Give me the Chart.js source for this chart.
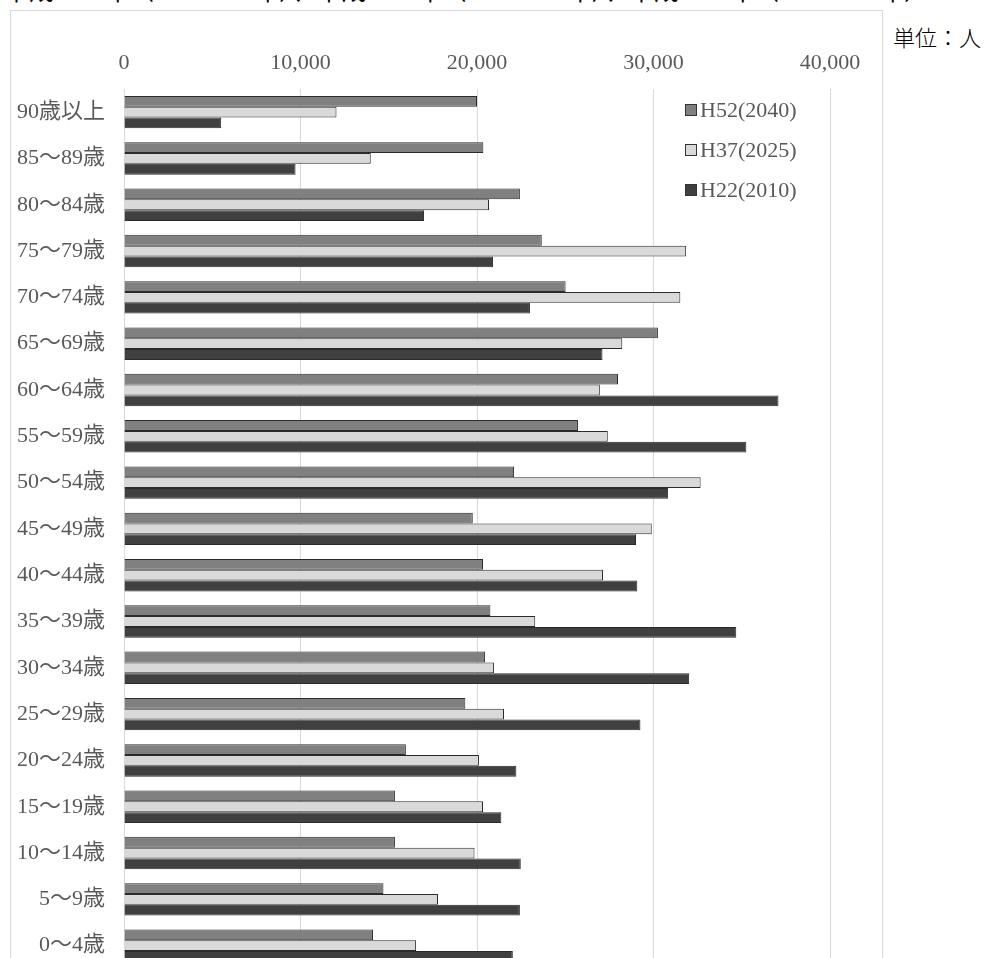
<!DOCTYPE html>
<html lang="ja">
<head>
<meta charset="utf-8">
<title>年齢階級別人口</title>
<script src="https://cdn.jsdelivr.net/npm/chart.js@4.4.1/dist/chart.umd.min.js"></script>
<style>
  html, body { margin: 0; padding: 0; background: #fff; overflow: hidden; }
  #wrap { position: relative; width: 1002px; height: 958px; overflow: hidden; }
  #frame { position: absolute; left: 10px; top: 10px; width: 873px; height: 1000px;
           border: 1px solid #d9d9d9; box-sizing: border-box; }
  #title { position: absolute; left: 4px; top: -25px; white-space: nowrap;
           font: 25px/28px "Noto Sans CJK JP", sans-serif; color: #000; }
  #unit { position: absolute; left: 893px; top: 22px;
          font: 300 22px/28px "Noto Sans CJK JP", sans-serif; color: #000; }
  #chart { position: absolute; left: 0; top: 0; }
  #legend { position: absolute; left: 685px; top: 90px; }
  .item { display: flex; align-items: center; height: 40px;
          font: 22px/1 "Liberation Serif", "Noto Sans CJK JP", serif; color: #595959; }
  .box { width: 10px; height: 10px; border: 1px solid #333; margin-right: 3px; }
</style>
</head>
<body>
<div id="wrap">
  <div id="title">平成２２年（２０１０年）、平成３７年（２０２５年）、平成５２年（２０４０年）</div>
  <div id="frame"></div>
  <div id="unit">単位：人</div>
  <canvas id="chart" width="1002" height="1001"></canvas>
  <div id="legend"></div>
</div>
<script>
// 年齢階級（上から高齢順）
const categories = [
  '90歳以上', '85～89歳', '80～84歳', '75～79歳', '70～74歳', '65～69歳',
  '60～64歳', '55～59歳', '50～54歳', '45～49歳', '40～44歳', '35～39歳',
  '30～34歳', '25～29歳', '20～24歳', '15～19歳', '10～14歳', '5～9歳', '0～4歳'
];

// 人口（人）
const popH52 = [20000, 20360, 22430, 23670, 25020, 30250, 27990, 25720, 22100, 19760,
                20340, 20760, 20460, 19340, 15970, 15350, 15350, 14700, 14110];
const popH37 = [12040, 13980, 20680, 31850, 31520, 28230, 26960, 27410, 32670, 29900,
                27140, 23300, 20960, 21530, 20110, 20340, 19860, 17790, 16550];
const popH22 = [5510, 9720, 17000, 20910, 23000, 27110, 37080, 35260, 30830, 29010,
                29080, 34690, 32020, 29260, 22230, 21380, 22480, 22430, 22030];

const seriesNames = ['H52(2040)', 'H37(2025)', 'H22(2010)'];
const seriesColors = ['#808080', '#d9d9d9', '#404040'];
const xTickValues = [0, 10000, 20000, 30000, 40000];

const labelFont = { family: '"Liberation Serif", "Noto Sans CJK JP", serif', size: 22 };

const datasets = [popH52, popH37, popH22].map((values, i) => ({
  label: seriesNames[i],
  data: values,
  backgroundColor: seriesColors[i],
  borderColor: '#2b2b2b',
  borderWidth: 1,
  categoryPercentage: 0.70,
  barPercentage: 1.0
}));

const chart = new Chart(document.getElementById('chart'), {
  type: 'bar',
  data: { labels: categories, datasets },
  options: {
    indexAxis: 'y',
    responsive: false,
    animation: false,
    devicePixelRatio: 1,
    layout: { padding: { left: 0, right: 172, top: 0, bottom: 0 } },
    plugins: { legend: { display: false }, tooltip: { enabled: false } },
    scales: {
      x: {
        position: 'top',
        min: 0,
        max: 40000,
        afterBuildTicks: (scale) => { scale.ticks = xTickValues.map(v => ({ value: v })); },
        afterFit: (scale) => { scale.height = 89; },
        grid: { color: '#d9d9d9', lineWidth: 1, drawTicks: false },
        border: { display: false },
        ticks: {
          padding: 13,
          color: '#595959',
          font: labelFont,
          maxRotation: 0,
          callback: (v) => Number(v).toLocaleString('en-US')
        }
      },
      y: {
        afterFit: (scale) => { scale.width = 124; },
        grid: { display: false, drawTicks: false },
        border: { display: false },
        ticks: { padding: 19, color: '#595959', font: labelFont, autoSkip: false }
      }
    }
  }
});

// 凡例（データセットから生成）
const legendEl = document.getElementById('legend');
chart.data.datasets.forEach(ds => {
  const item = document.createElement('div');
  item.className = 'item';
  const box = document.createElement('span');
  box.className = 'box';
  box.style.background = ds.backgroundColor;
  const text = document.createElement('span');
  text.textContent = ds.label;
  item.appendChild(box);
  item.appendChild(text);
  legendEl.appendChild(item);
});
</script>
</body>
</html>
